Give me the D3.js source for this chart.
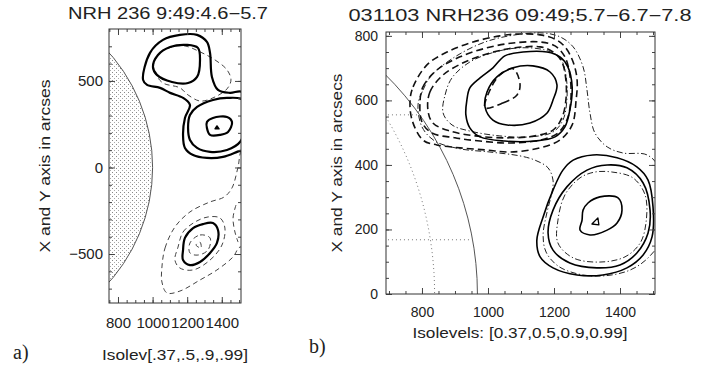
<!DOCTYPE html>
<html>
<head>
<meta charset="utf-8">
<script src="https://cdn.jsdelivr.net/npm/d3@7"></script>
<style>
  body { margin: 0; background: #fff; }
  svg { display: block; }
</style>
</head>
<body>
<div id="chart"></div>
<script>
// NRH 236 MHz source contours near the west limb, panels a) and b)

// ---- panel a (arcsec) ----
const aXTicks = [800, 1000, 1200, 1400];
const aYTicks = [-500, 0, 500];
const aLimbR = 1000;
const aSolid = [
  [[945,506],[985,662],[1060,737],[1158,766],[1257,766],[1314,725],[1332,662],[1343,523],[1378,448],[1447,431],[1517,436],[1551,275],[1540,113],[1488,90],[1407,61],[1314,55],[1234,72],[1187,113],[1176,188],[1187,286],[1216,361],[1176,402],[1101,431],[1043,460],[968,477]],
  [[1002,581],[1031,650],[1101,696],[1199,708],[1262,691],[1274,621],[1257,523],[1205,488],[1112,494],[1025,535]],
  [[1349,390],[1257,350],[1216,303],[1205,228],[1216,159],[1257,113],[1332,90],[1430,101],[1505,147],[1540,275],[1523,390],[1430,402]],
  [[1314,263],[1349,286],[1430,292],[1459,263],[1436,205],[1390,188],[1332,188],[1314,228]],
  [[1176,-477],[1187,-407],[1234,-350],[1291,-327],[1349,-321],[1378,-361],[1372,-436],[1332,-494],[1274,-546],[1216,-564],[1176,-535]]
];
const aMarker = [[1361,223],[1372,240],[1384,223]];
const aDashed = [
  [[1002,581],[1043,662],[1112,696],[1187,702],[1274,668],[1361,621],[1430,564],[1453,506],[1430,454],[1349,402],[1274,384],[1205,419],[1158,460],[1060,488],[1020,535]],
  [[1216,-436],[1274,-390],[1332,-407],[1320,-477],[1262,-506],[1216,-494]],
  [[1251,-448],[1274,-431],[1280,-465]],
  [[1147,-460],[1176,-373],[1245,-315],[1320,-286],[1390,-292],[1418,-350],[1401,-448],[1332,-535],[1234,-592],[1158,-581],[1129,-535]],
  [[1054,-575],[1072,-465],[1129,-344],[1216,-257],[1332,-199],[1413,-171],[1459,-118],[1494,3],[1517,101],[1575,101],[1575,-477],[1505,-460],[1465,-517],[1372,-592],[1274,-650],[1158,-714],[1083,-725],[1054,-662]]
];
const aDashedOpen = [
  [[1482,-217],[1465,-292],[1476,-373],[1494,-431]]
];

// ---- panel b (arcsec) ----
const bXTicks = [800, 1000, 1200, 1400];
const bYTicks = [0, 200, 400, 600, 800];
const bLimbR = 968;
const bGridLat = [10, 35];
const bGridLon = 60;
const bSolid = [
  [[991,580],[997,626],[1027,673],[1076,701],[1136,707],[1188,688],[1209,648],[1197,601],[1179,561],[1127,530],[1058,524],[1015,539]],
  [[936,601],[945,639],[976,670],[1015,701],[1051,738],[1106,750],[1179,750],[1218,735],[1242,704],[1255,642],[1248,570],[1233,518],[1203,487],[1142,474],[1051,474],[976,487],[945,515],[933,555]],
  [[1227,384],[1197,322],[1167,239],[1148,167],[1158,115],[1197,81],[1270,59],[1348,59],[1421,81],[1470,121],[1497,177],[1500,270],[1485,353],[1451,394],[1391,422],[1318,431],[1258,415]],
  [[1300,384],[1239,332],[1197,260],[1182,189],[1197,136],[1248,96],[1330,81],[1400,90],[1451,127],[1485,189],[1491,260],[1470,344],[1421,391],[1361,400]],
  [[1288,260],[1303,282],[1339,301],[1394,298],[1406,260],[1391,220],[1361,198],[1309,183],[1279,198],[1285,229]]
];
const bMarker = [[1315,217],[1333,236],[1336,214]];
const bDashed = [
  [[764,601],[773,642],[815,710],[876,750],[955,781],[1036,800],[1097,806],[1158,803],[1203,790],[1233,766],[1258,719],[1270,663],[1267,601],[1255,524],[1218,477],[1158,453],[1067,440],[997,446],[915,453],[845,462],[803,477],[770,539]],
  [[794,595],[803,642],[845,694],[915,735],[997,763],[1076,778],[1158,781],[1203,769],[1233,735],[1248,679],[1251,601],[1239,539],[1212,499],[1158,477],[1067,468],[976,474],[900,484],[830,499],[800,533]],
  [[818,570],[824,626],[864,679],[930,719],[1006,747],[1082,763],[1158,766],[1197,750],[1224,719],[1236,663],[1236,601],[1224,546],[1197,508],[1142,490],[1051,484],[961,490],[885,505],[833,530]],
  [[991,577],[1045,592],[1088,617],[1097,651],[1076,698],[1036,679],[1006,632]]
];
const bDashDot = [
  [[788,586],[803,632],[830,679],[900,735],[991,781],[1082,803],[1167,809],[1218,797],[1258,766],[1288,704],[1300,632],[1309,561],[1324,499],[1361,456],[1409,437],[1482,431],[1521,384],[1521,167],[1485,112],[1430,74],[1348,56],[1273,62],[1212,87],[1176,130],[1167,183],[1179,254],[1194,316],[1197,353],[1182,391],[1142,415],[1097,428],[1006,440],[915,450],[839,474],[800,518]],
  [[864,561],[870,617],[891,670],[945,719],[1021,750],[1097,763],[1173,756],[1218,732],[1236,679],[1239,601],[1227,539],[1197,502],[1127,487],[1036,490],[945,505],[891,524]],
  [[1279,360],[1233,307],[1212,229],[1212,158],[1258,112],[1339,99],[1415,115],[1461,158],[1479,223],[1476,307],[1439,360],[1376,378],[1324,378]]
];

const FONT = '"Liberation Sans", Helvetica, Arial, sans-serif';
const svg = d3.select('#chart').append('svg').attr('width', 712).attr('height', 365)
  .style('font-family', FONT);

const defs = svg.append('defs');
const pat = defs.append('pattern').attr('id', 'stipple').attr('patternUnits', 'userSpaceOnUse')
  .attr('width', 4).attr('height', 4);
pat.append('rect').attr('x', 0).attr('y', 0).attr('width', 1).attr('height', 1).attr('fill', '#888');
pat.append('rect').attr('x', 2).attr('y', 2).attr('width', 1).attr('height', 1).attr('fill', '#aaa');

function makePanel(id, box, xDom, yDom) {
  const x = d3.scaleLinear().domain(xDom).range([box.left, box.right]);
  const y = d3.scaleLinear().domain(yDom).range([box.bottom, box.top]);
  defs.append('clipPath').attr('id', 'clip-' + id).append('rect')
    .attr('x', box.left).attr('y', box.top)
    .attr('width', box.right - box.left).attr('height', box.bottom - box.top);
  const g = svg.append('g');
  const plot = g.append('g').attr('clip-path', `url(#clip-${id})`);
  return { x, y, g, plot, box };
}

function axes(p, xMajor, xMinor, yMajor, yMinor, fs, xPad, yPad, fmt) {
  const { x, y, g, box } = p;
  const noDomain = s => s.select('.domain').remove();
  const style = s => s.selectAll('text').style('font-family', FONT).style('font-size', fs + 'px').attr('fill', '#222');
  const lineCol = s => s.selectAll('line').attr('stroke', '#444');
  g.append('g').attr('transform', `translate(0,${box.bottom})`)
    .call(d3.axisBottom(x).tickValues(xMajor).tickSizeInner(-6).tickSizeOuter(0).tickPadding(xPad).tickFormat(fmt))
    .call(noDomain).call(style).call(lineCol);
  g.append('g').attr('transform', `translate(0,${box.bottom})`)
    .call(d3.axisBottom(x).tickValues(xMinor).tickSize(-3).tickFormat(''))
    .call(noDomain).call(lineCol);
  g.append('g').attr('transform', `translate(0,${box.top})`)
    .call(d3.axisTop(x).tickValues(xMajor).tickSize(-6).tickFormat(''))
    .call(noDomain).call(lineCol);
  g.append('g').attr('transform', `translate(0,${box.top})`)
    .call(d3.axisTop(x).tickValues(xMinor).tickSize(-3).tickFormat(''))
    .call(noDomain).call(lineCol);
  g.append('g').attr('transform', `translate(${box.left},0)`)
    .call(d3.axisLeft(y).tickValues(yMajor).tickSizeInner(-6).tickSizeOuter(0).tickPadding(yPad).tickFormat(fmt))
    .call(noDomain).call(style).call(lineCol);
  g.append('g').attr('transform', `translate(${box.left},0)`)
    .call(d3.axisLeft(y).tickValues(yMinor).tickSize(-3).tickFormat(''))
    .call(noDomain).call(lineCol);
  g.append('g').attr('transform', `translate(${box.right},0)`)
    .call(d3.axisRight(y).tickValues(yMajor).tickSize(-6).tickFormat(''))
    .call(noDomain).call(lineCol);
  g.append('g').attr('transform', `translate(${box.right},0)`)
    .call(d3.axisRight(y).tickValues(yMinor).tickSize(-3).tickFormat(''))
    .call(noDomain).call(lineCol);
  g.append('rect').attr('x', box.left).attr('y', box.top)
    .attr('width', box.right - box.left).attr('height', box.bottom - box.top)
    .attr('fill', 'none').attr('stroke', '#333').attr('stroke-width', 1);
}

function contours(p, sets, style, curve) {
  const line = d3.line().x(d => p.x(d[0])).y(d => p.y(d[1])).curve(curve);
  p.plot.selectAll(null).data(sets).enter().append('path')
    .attr('d', line).attr('fill', 'none')
    .attr('stroke', style.color).attr('stroke-width', style.width)
    .attr('stroke-dasharray', style.dash || null)
    .attr('stroke-linejoin', 'round');
}

const fmt = d => d < 0 ? '\u2212' + Math.abs(d) : String(d);
const smooth = d3.curveCatmullRomClosed.alpha(0.5);

// ---------- panel a ----------
const pa = makePanel('a', { left: 109, right: 241, top: 29, bottom: 303 }, [748, 1511], [-783, 800]);
// stippled solar disk
pa.plot.append('ellipse')
  .attr('cx', pa.x(0)).attr('cy', pa.y(0))
  .attr('rx', pa.x(aLimbR) - pa.x(0)).attr('ry', pa.y(0) - pa.y(aLimbR))
  .attr('fill', 'url(#stipple)').attr('stroke', '#555').attr('stroke-width', 1);
contours(pa, aDashed, { color: '#444', width: 1, dash: '5,3.5' }, smooth);
contours(pa, aDashedOpen, { color: '#444', width: 1, dash: '5,3.5' }, d3.curveCatmullRom.alpha(0.5));
contours(pa, aSolid, { color: '#000', width: 2.2 }, smooth);
contours(pa, [aMarker], { color: '#000', width: 1.5 }, d3.curveLinearClosed);
axes(pa, aXTicks, d3.range(750, 1501, 50), aYTicks, d3.range(-700, 701, 100), 15, 14, 6, fmt);

svg.append('text').attr('x', 168).attr('y', 19).attr('text-anchor', 'middle')
  .attr('textLength', 200).attr('lengthAdjust', 'spacingAndGlyphs')
  .style('font-size', '16px').attr('fill', '#222').text('NRH  236  9:49:4.6\u22125.7');
svg.append('text').attr('transform', 'translate(50,166) rotate(-90)').attr('text-anchor', 'middle')
  .attr('textLength', 173).attr('lengthAdjust', 'spacingAndGlyphs')
  .style('font-size', '15px').attr('fill', '#222').text('X and Y axis in arcses');
svg.append('text').attr('x', 175).attr('y', 360).attr('text-anchor', 'middle')
  .attr('textLength', 146).attr('lengthAdjust', 'spacingAndGlyphs')
  .style('font-size', '15px').attr('fill', '#222').text('Isolev[.37,.5,.9,.99]');
svg.append('text').attr('x', 13).attr('y', 359)
  .style('font-family', '"Liberation Serif", "Times New Roman", serif').style('font-size', '20px')
  .attr('fill', '#222').text('a)');

// ---------- panel b ----------
const pb = makePanel('b', { left: 386, right: 655, top: 32, bottom: 294 }, [691, 1506], [0, 812]);
pb.plot.append('ellipse')
  .attr('cx', pb.x(0)).attr('cy', pb.y(0))
  .attr('rx', pb.x(bLimbR) - pb.x(0)).attr('ry', pb.y(0) - pb.y(bLimbR))
  .attr('fill', 'none').attr('stroke', '#555').attr('stroke-width', 1);
const rad = Math.PI / 180;
const gridLine = d3.line().x(d => pb.x(d[0])).y(d => pb.y(d[1]));
const meridian = d3.range(-90, 90.1, 2).map(l =>
  [bLimbR * Math.sin(bGridLon * rad) * Math.cos(l * rad), bLimbR * Math.sin(l * rad)]);
pb.plot.append('path').attr('d', gridLine(meridian)).attr('fill', 'none')
  .attr('stroke', '#777').attr('stroke-width', 1).attr('stroke-dasharray', '1,3');
pb.plot.selectAll(null).data(bGridLat).enter().append('path')
  .attr('d', lat => gridLine([[600, bLimbR * Math.sin(lat * rad)], [bLimbR * Math.cos(lat * rad), bLimbR * Math.sin(lat * rad)]]))
  .attr('fill', 'none').attr('stroke', '#777').attr('stroke-width', 1).attr('stroke-dasharray', '1,3');
contours(pb, bDashDot, { color: '#222', width: 1, dash: '6,2.5,1.2,2.5' }, smooth);
contours(pb, bDashed, { color: '#111', width: 1.6, dash: '7,4' }, smooth);
contours(pb, bSolid, { color: '#000', width: 1.6 }, smooth);
contours(pb, [bMarker], { color: '#000', width: 1.3 }, d3.curveLinearClosed);
axes(pb, bXTicks, d3.range(700, 1501, 50), bYTicks, d3.range(0, 801, 50), 14, 13.5, 8, fmt);

svg.append('text').attr('x', 520).attr('y', 21).attr('text-anchor', 'middle')
  .attr('textLength', 343).attr('lengthAdjust', 'spacingAndGlyphs')
  .style('font-size', '16px').attr('fill', '#222').text('031103 NRH236 09:49;5.7\u22126.7\u22127.8');
svg.append('text').attr('transform', 'translate(342,163) rotate(-90)').attr('text-anchor', 'middle')
  .attr('textLength', 179).attr('lengthAdjust', 'spacingAndGlyphs')
  .style('font-size', '15px').attr('fill', '#222').text('X and Y axis in arcsecs');
svg.append('text').attr('x', 520).attr('y', 338).attr('text-anchor', 'middle')
  .attr('textLength', 215).attr('lengthAdjust', 'spacingAndGlyphs')
  .style('font-size', '15px').attr('fill', '#222').text('Isolevels: [0.37,0.5,0.9,0.99]');
svg.append('text').attr('x', 309).attr('y', 353)
  .style('font-family', '"Liberation Serif", "Times New Roman", serif').style('font-size', '20px')
  .attr('fill', '#222').text('b)');
</script>
</body>
</html>
